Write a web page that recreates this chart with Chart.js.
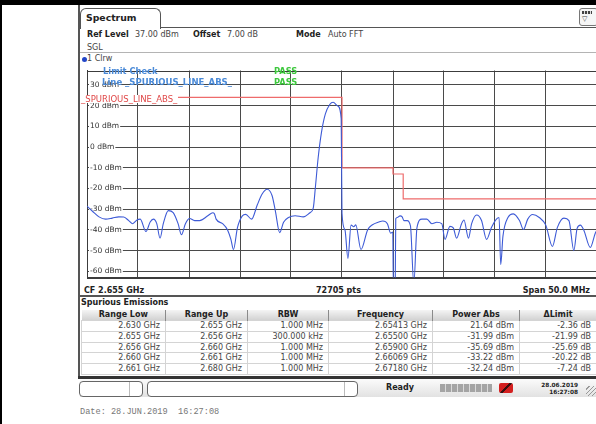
<!DOCTYPE html>
<html>
<head>
<meta charset="utf-8">
<script src="https://cdn.jsdelivr.net/npm/chart.js@4.4.0/dist/chart.umd.min.js"></script>
<style>
  body { margin: 0; width: 596px; height: 424px; position: relative; overflow: hidden; background: #fff;
         font-family: "DejaVu Sans", Verdana, sans-serif; color: #222; }
  .t { position: absolute; white-space: nowrap; font-size: 8px; line-height: 10px; height: 10px; }
  .b { font-weight: bold; }
  .v { color: #444; }
  #plot { position: absolute; left: 80px; top: 63px; width: 518px; height: 222px; }
  #spur { position: absolute; left: 81px; top: 310px; width: 515px; border-collapse: collapse; table-layout: fixed;
          font-size: 8px; }
  #spur th { height: 10px; line-height: 10px; padding: 0; font-weight: bold; color: #222; text-align: center;
             background: linear-gradient(#f4f4f4, #d2d2d2); border-right: 1px solid #8a8a8a; }
  #spur td { height: 9.8px; line-height: 9.8px; padding: 0 5px 0 0; text-align: right; color: #444;
             border: 1px solid #d4d4d4; white-space: nowrap; overflow: hidden; }
</style>
</head>
<body>
<div style="position:absolute;left:0;top:0;width:596px;height:5px;background:#000"></div>
<div style="position:absolute;left:0;top:0;width:2px;height:424px;background:#000"></div>
<div style="position:absolute;left:78px;top:5px;width:2px;height:374px;background:#555"></div>

<div style="position:absolute;left:80px;top:8px;width:79px;height:20px;border:1px solid #555;border-bottom:none;border-radius:6px 6px 0 0;background:#fff"></div>
<div class="t b" style="left:86px;top:13px;font-size:9.3px">Spectrum</div>
<div style="position:absolute;left:160px;top:27px;width:436px;height:1px;background:#555"></div>
<div style="position:absolute;left:579px;top:8px;width:17px;height:16px;border:1px solid #777;border-radius:3px;background:#f6f6f6"></div>
<div style="position:absolute;left:582px;top:11px;width:10px;height:3px;background:repeating-linear-gradient(90deg,#444 0 2px,#ddd 2px 3px)"></div>
<div class="t" style="left:582px;top:14px;font-size:7px;color:#444">▽</div>

<div class="t b" style="left:87px;top:29.5px">Ref Level</div>
<div class="t v" style="left:135px;top:29.5px">37.00 dBm</div>
<div class="t b" style="left:193px;top:29.5px">Offset</div>
<div class="t v" style="left:227px;top:29.5px">7.00 dB</div>
<div class="t b" style="left:296px;top:29.5px">Mode</div>
<div class="t v" style="left:328px;top:29.5px">Auto FFT</div>
<div class="t v" style="left:87px;top:42.5px">SGL</div>
<div style="position:absolute;left:80px;top:51.5px;width:516px;height:1.5px;background:#b4b4b4"></div>
<div style="position:absolute;left:81.5px;top:56.5px;width:5px;height:5px;border-radius:50%;background:#2246c8"></div>
<div class="t v" style="left:87px;top:54px">1 Clrw</div>

<div id="plot"><canvas id="spectrumChart"></canvas></div>

<div class="t b" style="left:103px;top:66px;font-size:8.3px;color:#4a8ad8">Limit Check</div>
<div class="t b" style="left:274px;top:66px;font-size:8.3px;color:#3ec83e">PASS</div>
<div class="t b" style="left:102px;top:77px;font-size:8.5px;color:#4a8ad8">Line _SPURIOUS_LINE_ABS_</div>
<div class="t b" style="left:274px;top:77px;font-size:8.3px;color:#3ec83e">PASS</div>
<div class="t" style="left:81px;top:95px;font-size:8.5px;line-height:8px;height:8px;color:#e04848;background:#fff;padding-right:1px">_SPURIOUS_LINE_ABS_</div>

<div class="t b" style="left:84px;top:285.5px">CF 2.655 GHz</div>
<div class="t b" style="left:316px;top:285.5px">72705 pts</div>
<div class="t b" style="left:490px;top:285.5px;width:100px;text-align:right">Span 50.0 MHz</div>
<div style="position:absolute;left:80px;top:295px;width:516px;height:2px;background:#555"></div>
<div class="t b" style="left:81px;top:298px">Spurious Emissions</div>

<table id="spur">
  <colgroup><col style="width:84px"><col style="width:82px"><col style="width:81px"><col style="width:104px"><col style="width:87px"><col style="width:77px"></colgroup>
  <thead><tr><th>Range Low</th><th>Range Up</th><th>RBW</th><th>Frequency</th><th>Power Abs</th><th>ΔLimit</th></tr></thead>
  <tbody id="spurRows"></tbody>
</table>
<div style="position:absolute;left:78px;top:376px;width:518px;height:3px;background:#333"></div>

<div style="position:absolute;left:80px;top:379px;width:516px;height:18px;background:linear-gradient(#fbfbfb,#e2e2e2)"></div>
<div style="position:absolute;left:79px;top:381px;width:62px;height:14px;border:1px solid #666;border-radius:4px;background:#fff"></div>
<div style="position:absolute;left:129px;top:382px;width:1px;height:14px;background:#bbb"></div>
<div style="position:absolute;left:147px;top:381px;width:209px;height:14px;border:1px solid #666;border-radius:4px;background:#fff"></div>
<div style="position:absolute;left:344px;top:382px;width:1px;height:14px;background:#bbb"></div>
<div class="t b" style="left:386px;top:383px">Ready</div>
<div style="position:absolute;left:440px;top:384px;width:52px;height:8px;background:repeating-linear-gradient(90deg,#a4a4a4 0 5px,#dadada 5px 6px)"></div>
<div style="position:absolute;left:499px;top:383px;width:14px;height:10px;border-radius:2px;background:linear-gradient(135deg,#d42020 44%,#3a1010 44% 56%,#d42020 56%)"></div>
<div class="t b" style="left:541px;top:380px;font-size:5.8px;width:37px;text-align:right">28.06.2019</div>
<div class="t b" style="left:541px;top:387px;font-size:5.8px;width:37px;text-align:right">16:27:08</div>
<div style="position:absolute;left:586px;top:386px;width:10px;height:10px;background:repeating-linear-gradient(135deg,transparent 0 2px,#999 2px 3px)"></div>

<div class="t" style="left:80px;top:406.5px;font-family:'Liberation Mono',monospace;font-size:8.6px;color:#777;white-space:pre">Date: 28.JUN.2019  16:27:08</div>

<script>
// measured trace (GHz / dBm), peaks from the table are merged in below
const traceFreq = [
  2.63000, 2.63054, 2.63118, 2.63183, 2.63248, 2.63312, 2.63360, 2.63409, 2.63448, 2.63490,
  2.63522, 2.63578, 2.63619, 2.63651, 2.63684, 2.63716, 2.63748, 2.63797, 2.63845, 2.63893,
  2.63926, 2.63965, 2.64007, 2.64055, 2.64104, 2.64184, 2.64233, 2.64249, 2.64266, 2.64329,
  2.64378, 2.64411, 2.64436, 2.64475, 2.64523, 2.64556, 2.64614, 2.64669, 2.64717, 2.64766,
  2.64814, 2.64847, 2.64889, 2.64927, 2.64976, 2.65041, 2.65121, 2.65186, 2.65218, 2.65240,
  2.65266, 2.65298, 2.65337, 2.65380, 2.65460, 2.65492,
  2.65529, 2.65558, 2.65589, 2.65615, 2.65635, 2.65686, 2.65751, 2.65799, 2.65860,
  2.65945, 2.65977, 2.65998, 2.66003, 2.66022, 2.66027, 2.66042,
  2.66090, 2.66107, 2.66139, 2.66171, 2.66204, 2.66235, 2.66284, 2.66332, 2.66381, 2.66429,
  2.66478, 2.66510, 2.66558, 2.66591, 2.66623, 2.66672, 2.66696, 2.66740, 2.66771, 2.66820,
  2.66868, 2.66917, 2.66965, 2.67014, 2.67040, 2.67056, 2.67078, 2.67127,
  2.67240, 2.67279, 2.67321, 2.67369, 2.67434, 2.67498, 2.67563, 2.67611, 2.67676, 2.67725,
  2.67773, 2.67805, 2.67837, 2.67870, 2.67934, 2.67983, 2.68000
];
const traceLevel = [
  -28.5, -31.0, -33.7, -34.8, -34.3, -33.7, -33.8, -35.5, -37.0, -35.2,
  -34.8, -40.8, -36.2, -34.8, -37.0, -44.0, -37.0, -30.7, -31.7, -37.0,
  -42.3, -37.0, -34.5, -35.5, -35.5, -33.2, -31.7, -32.2, -34.8, -37.0,
  -40.0, -44.6, -49.5, -38.9, -33.2, -32.5, -34.8, -28.0, -22.7, -20.4,
  -23.4, -30.9, -41.3, -36.3, -34.0, -33.2, -33.7, -31.7, -29.5, -18.9,
  -5.3, 6.9, 16.0, 20.6, 19.8, 13.7,
  -40.0, -53.8, -37.7, -38.5, -37.6, -49.5, -40.0, -37.5, -36.2,
  -37.0, -41.6, -41.0, -66.0, -66.0, -34.6, -34.0,
  -33.7, -35.5, -35.5, -38.0, -66.0, -38.9, -34.8, -34.8, -37.0, -36.3,
  -37.0, -44.6, -38.3, -39.0, -44.0, -37.0, -35.2, -44.0, -37.0, -32.8,
  -35.5, -44.6, -38.9, -34.8, -34.0, -56.8, -43.0, -34.0,
  -35.5, -39.8, -34.8, -32.6, -34.0, -37.7, -48.0, -38.9, -34.3, -35.5,
  -50.0, -39.3, -37.7, -40.0, -48.5, -41.6, -40.0
];

// spurious emission ranges and results
const rangeLow = [2.630, 2.655, 2.656, 2.660, 2.661];
const rangeUp = [2.655, 2.656, 2.660, 2.661, 2.680];
const rbwText = ["1.000 MHz", "300.000 kHz", "1.000 MHz", "1.000 MHz", "1.000 MHz"];
const peakFreq = [2.65413, 2.65500, 2.65900, 2.66069, 2.67180];
const powerAbs = [21.64, -31.99, -35.69, -33.22, -32.24];
const deltaLimit = [-2.36, -21.99, -25.69, -20.22, -7.24];

const levelTicks = [30, 20, 10, 0, -10, -20, -30, -40, -50, -60];
const freqGrid = [2.630, 2.635, 2.640, 2.645, 2.650, 2.655, 2.660, 2.665, 2.670, 2.675, 2.680];

// table
let html = "";
for (let i = 0; i < rangeLow.length; i++) {
  html += `<tr><td>${rangeLow[i].toFixed(3)} GHz</td><td>${rangeUp[i].toFixed(3)} GHz</td>` +
    `<td>${rbwText[i]}</td><td>${peakFreq[i].toFixed(5)} GHz</td>` +
    `<td>${powerAbs[i].toFixed(2)} dBm</td><td>${deltaLimit[i].toFixed(2)} dB</td></tr>`;
}
document.getElementById("spurRows").innerHTML = html;

// trace points with the table peaks merged in
const tracePoints = traceFreq.map((f, i) => ({ x: f, y: traceLevel[i] }))
  .concat(peakFreq.map((f, i) => ({ x: f, y: powerAbs[i] })))
  .sort((a, b) => a.x - b.x);

// limit line: limit = power - delta for each range
const limitPoints = [];
for (let i = 0; i < rangeLow.length; i++) {
  const lim = Math.round((powerAbs[i] - deltaLimit[i]) * 100) / 100;
  limitPoints.push({ x: rangeLow[i], y: lim }, { x: rangeUp[i], y: lim });
}

const framePlugin = {
  id: "frame",
  beforeDatasetsDraw(chart) {
    const { ctx, chartArea: a } = chart;
    ctx.save();
    ctx.strokeStyle = "#3c3c3c";
    ctx.lineWidth = 1;
    ctx.strokeRect(Math.round(a.left) + 0.5, Math.round(a.top) + 0.5, a.right - a.left, a.bottom - a.top);
    ctx.restore();
  }
};

new Chart(document.getElementById("spectrumChart"), {
  type: "line",
  data: {
    datasets: [
      {
        data: tracePoints,
        borderColor: "#3d5ad6",
        borderWidth: 1.1,
        pointRadius: 0,
        cubicInterpolationMode: "monotone"
      },
      {
        data: limitPoints,
        borderColor: "#ee6b6b",
        borderWidth: 1.2,
        pointRadius: 0,
        tension: 0
      }
    ]
  },
  options: {
    responsive: true,
    maintainAspectRatio: false,
    animation: false,
    layout: { padding: { left: 1, top: 1, right: 1, bottom: 1 } },
    plugins: { legend: { display: false }, tooltip: { enabled: false } },
    scales: {
      x: {
        type: "linear",
        min: 2.630,
        max: 2.680,
        afterBuildTicks: (s) => { s.ticks = freqGrid.map((v) => ({ value: v })); },
        grid: { color: "#4a4a4a", drawTicks: false },
        border: { color: "#3c3c3c" },
        ticks: { display: false }
      },
      y: {
        min: -63,
        max: 37,
        afterBuildTicks: (s) => { s.ticks = levelTicks.map((v) => ({ value: v })); },
        grid: { color: "#4a4a4a", drawTicks: false },
        border: { color: "#3c3c3c" },
        ticks: {
          mirror: true,
          padding: 3,
          color: "#333",
          font: { family: "DejaVu Sans", size: 7.5 },
          callback: (v) => v + " dBm",
          showLabelBackdrop: true,
          backdropColor: "#fff",
          backdropPadding: { top: 0, bottom: 0, left: 1, right: 1 }
        }
      }
    }
  },
  plugins: [framePlugin]
});
</script>
</body>
</html>
